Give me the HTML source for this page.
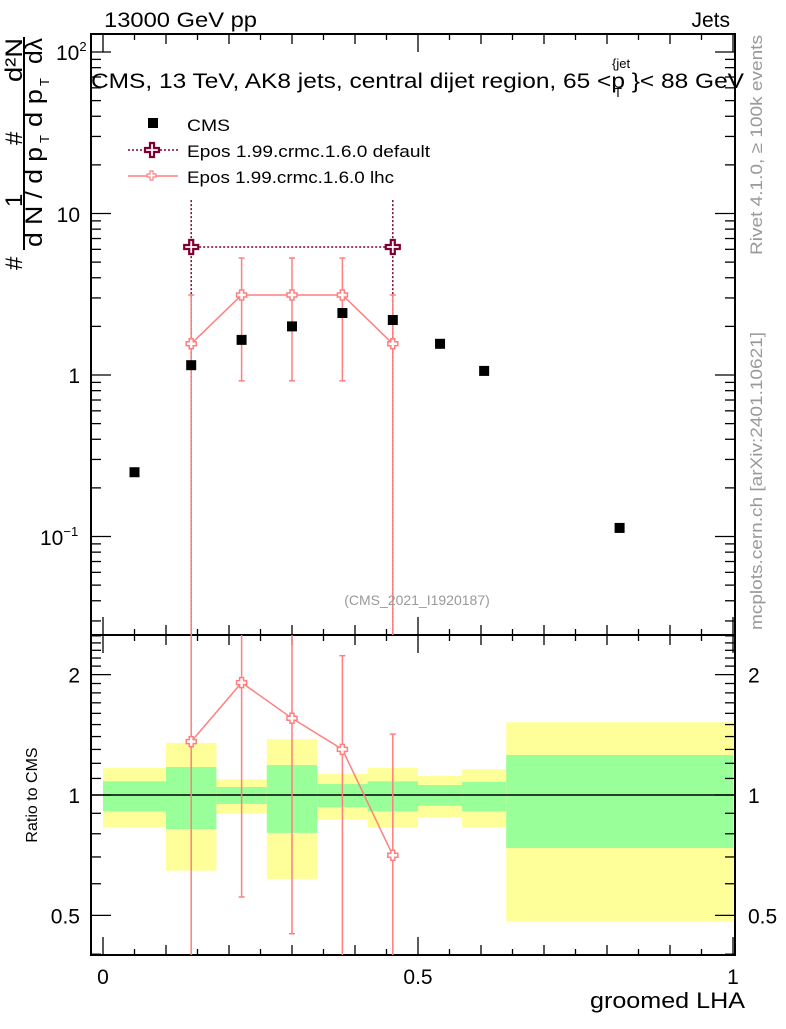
<!DOCTYPE html>
<html><head><meta charset="utf-8"><style>
body{margin:0;background:#fff;}
svg{font-family:"Liberation Sans",sans-serif;}
</style></head><body>
<svg id="c" width="786" height="1024" viewBox="0 0 786 1024" xmlns="http://www.w3.org/2000/svg"></svg>
<script>
const cmsX=[0.05,0.14,0.22,0.30,0.38,0.46,0.535,0.605,0.82];
const cmsY=[0.25,1.15,1.65,2.0,2.42,2.19,1.56,1.06,0.113];
const defX=[0.14,0.46];
const defY=[6.2,6.2];
const defHi=[12.1,12.1];
const defLo=[0.001,0.001];
const lhcX=[0.14,0.22,0.30,0.38,0.46];
const lhcY=[1.56,3.13,3.13,3.13,1.56];
const lhcHi=[3.13,5.3,5.3,5.3,3.13];
const lhcLo=[0.001,0.92,0.92,0.92,0.001];
const binEdges=[0,0.1,0.18,0.26,0.34,0.42,0.5,0.57,0.64,1.0];
const yelHi=[1.168,1.35,1.094,1.38,1.128,1.168,1.116,1.16,1.52];
const grnHi=[1.082,1.175,1.047,1.188,1.065,1.082,1.059,1.078,1.259];
const grnLo=[0.91,0.822,0.95,0.804,0.932,0.91,0.94,0.91,0.737];
const yelLo=[0.83,0.647,0.9,0.617,0.87,0.83,0.88,0.83,0.482];
const ratX=[0.14,0.22,0.30,0.38,0.46];
const ratY=[1.36,1.91,1.555,1.30,0.707];
const ratHi=[10,10,10,2.23,1.42];
const ratLo=[0.01,0.556,0.45,0.01,0.01];
const xTicks=[0,0.5,1];
const xTickLabels=["0","0.5","1"];

const NS="http://www.w3.org/2000/svg";
const svg=document.getElementById('c');
const L=91,R=735,T=34,MB=635,RB=955;
const px=v=>103+630*v;
const pyM=v=>375-161.5*Math.log10(v);
const pyR=v=>795-400*Math.log10(v);
function el(t,a,p){const e=document.createElementNS(NS,t);for(const k in a)e.setAttribute(k,a[k]);(p||svg).appendChild(e);return e;}
function clampM(y){return Math.max(T,Math.min(MB,y));}
function clampR(y){return Math.max(MB,Math.min(RB,y));}
function txt(s,a){const e=el('text',a);e.textContent=s;return e;}
function cross(x,y,col,sz,w){const d=`M${x-2},${y-sz}h4v${sz-2}h${sz-2}v4h-${sz-2}v${sz-2}h-4v-${sz-2}h-${sz-2}v-4h${sz-2}z`;return el('path',{d:d,fill:'#fff',stroke:col,'stroke-width':w});}

for(let i=0;i<yelHi.length;i++){
 const x0=px(binEdges[i]),x1=px(binEdges[i+1]);
 const y=el('rect',{x:x0,y:pyR(yelHi[i]),width:x1-x0,height:pyR(yelLo[i])-pyR(yelHi[i]),fill:'#ffff99'});
 
 
 const g=el('rect',{x:x0,y:pyR(grnHi[i]),width:x1-x0,height:pyR(grnLo[i])-pyR(grnHi[i]),fill:'#99ff99'});
 
 
}
el('line',{x1:L,x2:R,y1:pyR(1),y2:pyR(1),stroke:'#000','stroke-width':1.5});

const f1=el('rect',{x:L,y:T,width:R-L,height:MB-T,fill:'none',stroke:'#000','stroke-width':2});


const f2=el('rect',{x:L,y:MB,width:R-L,height:RB-MB,fill:'none',stroke:'#000','stroke-width':2});



for(let v=0;v<=1.0001;v+=0.05){
 const major=Math.abs(v*2-Math.round(v*2))<1e-6;
 const mid=Math.abs(v*10-Math.round(v*10))<1e-6;
 const len=major?18:(mid?10:6);
 [[T,1],[MB,1],[MB,-1],[RB,-1]].forEach(([yy,d])=>el('line',{x1:px(v),x2:px(v),y1:yy,y2:yy+d*len,stroke:'#000','stroke-width':1.3}));
}
xTicks.forEach((v,i)=>{const t=txt(xTickLabels[i],{x:px(v),y:984,'font-size':21,'text-anchor':'middle'});
 
 });
for(let d=-2;d<=2;d++){for(let m=1;m<10;m++){const v=m*Math.pow(10,d);const y=pyM(v);if(y<T||y>MB)continue;
 const len=m==1?20:10;el('line',{x1:L,x2:L+len,y1:y,y2:y,stroke:'#000','stroke-width':1.3});el('line',{x1:R,x2:R-len,y1:y,y2:y,stroke:'#000','stroke-width':1.3});}}
txt('1',{x:80,y:383,'font-size':21,'text-anchor':'end'});
txt('10',{x:80,y:222,'font-size':21,'text-anchor':'end'});
const t100=el('text',{x:56,y:60,'font-size':21});t100.innerHTML='10<tspan dy="-9" font-size="13">2</tspan>';
const t01=el('text',{x:40,y:545,'font-size':21});t01.innerHTML='10<tspan dy="-9" font-size="13">−1</tspan>';
[0.4,0.5,0.6,0.7,0.8,0.9,1,1.1,1.2,1.3,1.4,1.5,1.6,1.7,1.8,1.9,2,2.1,2.2,2.3,2.4,2.5].forEach(v=>{const y=pyR(v);if(y<MB||y>RB)return;
 const len=(v==0.5||v==1||v==2)?20:10;el('line',{x1:L,x2:L+len,y1:y,y2:y,stroke:'#000','stroke-width':1.3});el('line',{x1:R,x2:R-len,y1:y,y2:y,stroke:'#000','stroke-width':1.3});});
[[2,'2'],[1,'1'],[0.5,'0.5']].forEach(([v,s])=>{txt(s,{x:80,y:pyR(v)+8,'font-size':21,'text-anchor':'end'});txt(s,{x:748,y:pyR(v)+8,'font-size':21});});

el('line',{x1:px(defX[0]),x2:px(defX[1]),y1:pyM(defY[0]),y2:pyM(defY[1]),stroke:'#800033','stroke-width':1.5,'stroke-dasharray':'2,2'});
defX.forEach((x,i)=>{el('line',{x1:px(x),x2:px(x),y1:clampM(pyM(defHi[i])),y2:clampM(pyM(defLo[i])),stroke:'#800033','stroke-width':1.5,'stroke-dasharray':'2,2'});
 const m=cross(px(x),pyM(defY[i]),'#800033',7,2.2);});
el('polyline',{points:lhcX.map((x,i)=>px(x)+','+pyM(lhcY[i])).join(' '),fill:'none',stroke:'#ff7f7f','stroke-width':1.5});
lhcX.forEach((x,i)=>{const y1=clampM(pyM(lhcHi[i])),y2=clampM(pyM(lhcLo[i]));el('line',{x1:px(x),x2:px(x),y1:y1,y2:y2,stroke:'#ff7f7f','stroke-width':1.5});
 if(y1>T)el('line',{x1:px(x)-3,x2:px(x)+3,y1:y1,y2:y1,stroke:'#ff7f7f','stroke-width':1.5});
 if(y2<MB)el('line',{x1:px(x)-3,x2:px(x)+3,y1:y2,y2:y2,stroke:'#ff7f7f','stroke-width':1.5});
 const m=cross(px(x),pyM(lhcY[i]),'#ff7f7f',5,1.5);});
cmsX.forEach((x,i)=>{const r=el('rect',{x:px(x)-5,y:pyM(cmsY[i])-5,width:10,height:10,fill:'#000'});
 
 });
el('polyline',{points:ratX.map((x,i)=>px(x)+','+pyR(ratY[i])).join(' '),fill:'none',stroke:'#ff7f7f','stroke-width':1.5});
ratX.forEach((x,i)=>{const y1=clampR(pyR(ratHi[i])),y2=clampR(pyR(ratLo[i]));el('line',{x1:px(x),x2:px(x),y1:y1,y2:y2,stroke:'#ff7f7f','stroke-width':1.5});
 if(y1>MB)el('line',{x1:px(x)-3,x2:px(x)+3,y1:y1,y2:y1,stroke:'#ff7f7f','stroke-width':1.5});
 if(y2<RB)el('line',{x1:px(x)-3,x2:px(x)+3,y1:y2,y2:y2,stroke:'#ff7f7f','stroke-width':1.5});
 const m=cross(px(x),pyR(ratY[i]),'#ff7f7f',5,1.5);});
</script>
<svg style="position:absolute;left:0;top:0" width="786" height="1024" xmlns="http://www.w3.org/2000/svg" font-family="Liberation Sans, sans-serif">
<text x="104" y="27" font-size="21" textLength="153" lengthAdjust="spacingAndGlyphs">13000 GeV pp</text>
<text x="730" y="27" font-size="21" text-anchor="end">Jets</text>
<text x="91" y="88" font-size="21" textLength="653" lengthAdjust="spacingAndGlyphs">CMS, 13 TeV, AK8 jets, central dijet region, 65 &lt;p  }&lt; 88 GeV</text>
<text x="612" y="68" font-size="13">{jet</text>
<text x="614" y="97" font-size="13">T</text>
<rect x="148" y="118" width="10" height="10" fill="#000"/>
<text x="187" y="131" font-size="17" textLength="43" lengthAdjust="spacingAndGlyphs">CMS</text>
<line x1="128" x2="178" y1="150" y2="150" stroke="#800033" stroke-width="1.5" stroke-dasharray="2,2"/>
<path d="M150,143h4v5h5v4h-5v5h-4v-5h-5v-4h5z" fill="#fff" stroke="#800033" stroke-width="2.2"/>
<text x="187" y="157" font-size="17" textLength="243" lengthAdjust="spacingAndGlyphs">Epos 1.99.crmc.1.6.0 default</text>
<line x1="128" x2="178" y1="176" y2="176" stroke="#ff7f7f" stroke-width="1.5"/>
<path d="M150,171h3v3h3v3h-3v3h-3v-3h-3v-3h3z" fill="#fff" stroke="#ff7f7f" stroke-width="1.2"/>
<text x="187" y="183" font-size="17" textLength="207" lengthAdjust="spacingAndGlyphs">Epos 1.99.crmc.1.6.0 lhc</text>
<text x="417" y="605" font-size="14" fill="#999" text-anchor="middle">(CMS_2021_I1920187)</text>
<text transform="translate(762,255) rotate(-90)" font-size="17" fill="#999" textLength="220" lengthAdjust="spacingAndGlyphs">Rivet 4.1.0, ≥ 100k events</text>
<text transform="translate(762,630) rotate(-90)" font-size="17" fill="#999" textLength="298" lengthAdjust="spacingAndGlyphs">mcplots.cern.ch [arXiv:2401.10621]</text>
<text x="745" y="1008" font-size="22" text-anchor="end" textLength="155" lengthAdjust="spacingAndGlyphs">groomed LHA</text>
<text transform="translate(37,795) rotate(-90)" font-size="16" text-anchor="middle">Ratio to CMS</text>
<g font-size="24">
<text transform="translate(22,270) rotate(-90)">#</text>
<text transform="translate(22,207) rotate(-90)">1</text>
<text transform="translate(22,145) rotate(-90)">#</text>
<text transform="translate(22,82) rotate(-90)" textLength="44" lengthAdjust="spacingAndGlyphs">d²N</text>
<line x1="24" x2="24" y1="250" y2="37" stroke="#000" stroke-width="2"/>
<text transform="translate(42,247) rotate(-90)" textLength="100" lengthAdjust="spacingAndGlyphs">d N / d p</text>
<text transform="translate(49,143) rotate(-90)" font-size="13">T</text>
<text transform="translate(42,127) rotate(-90)" textLength="38" lengthAdjust="spacingAndGlyphs">d p</text>
<text transform="translate(49,86) rotate(-90)" font-size="13">T</text>
<text transform="translate(42,64) rotate(-90)" textLength="26" lengthAdjust="spacingAndGlyphs">dλ</text>
</g>
</svg>
</body></html>
